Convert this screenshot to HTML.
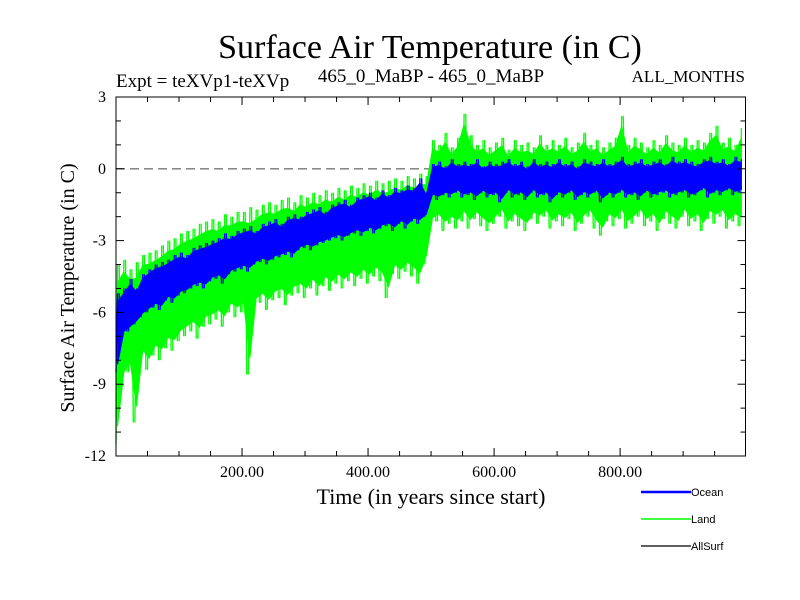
<!DOCTYPE html>
<html><head><meta charset="utf-8"><style>
body{margin:0;background:#fff}
svg{display:block}
text{font-family:"Liberation Serif",serif;fill:#000}
</style></head><body>
<svg id="c" width="800" height="600">
<text x="430" y="58" font-size="34" text-anchor="middle">Surface Air Temperature (in C)</text>
<text x="116" y="87" font-size="19">Expt = teXVp1-teXVp</text>
<text x="431" y="82" font-size="19" text-anchor="middle">465_0_MaBP - 465_0_MaBP</text>
<text x="745" y="82" font-size="17" text-anchor="end">ALL_MONTHS</text>
<text transform="translate(74,288) rotate(-90)" font-size="20" text-anchor="middle">Surface Air Temperature (in C)</text>
<text x="431" y="504" font-size="22" text-anchor="middle">Time (in years since start)</text>
<g id="plot"></g>
<g id="axes"></g>
<g id="legend"></g>
</svg>
<script>
const yTicks=[3,0,-3,-6,-9,-12];
const xTickLabels=[200,400,600,800];
const years5=[];for(let i=0;i<200;i++)years5.push(i*5);
const ocean=[-8.5,-5.2,-7.0,-5.0,-6.8,-4.6,-6.5,-5.0,-6.2,-4.4,
-6.0,-4.2,-5.8,-4.0,-5.9,-3.9,-5.5,-3.8,-5.6,-3.6,
-5.3,-3.5,-5.2,-3.6,-5.0,-3.3,-4.9,-3.2,-5.0,-3.1,
-4.7,-3.0,-4.6,-2.9,-4.8,-2.7,-4.4,-2.8,-4.3,-2.6,
-4.2,-2.5,-4.3,-2.4,-4.0,-2.6,-3.9,-2.3,-4.0,-2.2,
-3.8,-2.1,-3.7,-2.3,-3.6,-2.0,-3.7,-1.9,-3.4,-2.0,
-3.3,-1.8,-3.4,-1.7,-3.2,-1.6,-3.1,-1.8,-3.0,-1.5,
-2.9,-1.4,-3.0,-1.3,-2.8,-1.5,-2.7,-1.2,-2.8,-1.1,
-2.6,-1.0,-2.7,-1.2,-2.5,-0.9,-2.4,-1.1,-2.6,-0.8,
-2.3,-0.9,-2.5,-0.7,-2.2,-0.8,-2.3,-0.4,-2.0,-1.0,
-1.2,0.2,-1.3,0.3,-1.1,0.1,-1.2,0.4,-1.0,0.2,
-1.2,0.3,-1.1,0.2,-1.3,0.4,-1.0,0.1,-1.2,0.3,
-1.1,0.2,-1.4,0.3,-1.0,0.4,-1.2,0.2,-1.1,0.3,
-1.3,0.1,-1.0,0.4,-1.2,0.2,-1.1,0.3,-1.4,0.2,
-1.1,0.4,-1.2,0.2,-1.0,0.3,-1.3,0.1,-1.1,0.4,
-1.2,0.3,-1.0,0.2,-1.4,0.4,-1.1,0.2,-1.2,0.3,
-1.0,0.5,-1.2,0.2,-1.1,0.3,-1.3,0.4,-1.0,0.2,
-1.2,0.3,-1.1,0.4,-1.0,0.2,-1.2,0.5,-1.1,0.3,
-1.0,0.4,-1.2,0.3,-1.1,0.2,-0.9,0.4,-1.2,0.5,
-1.0,0.3,-1.1,0.4,-0.9,0.2,-1.1,0.5,-1.0,0.4];
const land=[-11.5,-4.0,-9.0,-3.8,-8.5,-4.2,-10.6,-3.9,-8.0,-3.6,
-8.4,-3.5,-7.8,-3.4,-8.0,-3.2,-7.5,-3.0,-7.6,-2.9,
-7.2,-2.7,-7.0,-2.6,-6.8,-2.5,-7.1,-2.3,-6.6,-2.2,
-6.5,-2.1,-6.3,-2.2,-6.6,-1.9,-6.0,-2.0,-6.2,-1.8,
-6.0,-1.8,-8.6,-1.6,-5.8,-1.7,-5.6,-1.5,-5.9,-1.4,
-5.5,-1.5,-5.4,-1.3,-5.7,-1.2,-5.3,-1.4,-5.2,-1.1,
-5.4,-1.2,-5.0,-1.0,-5.3,-1.1,-4.9,-0.9,-5.1,-1.0,
-4.8,-0.8,-5.0,-0.9,-4.7,-0.7,-4.9,-0.8,-4.6,-0.6,
-4.8,-0.7,-4.5,-0.5,-4.7,-0.6,-5.4,-0.5,-4.4,-0.4,
-4.6,-0.5,-4.3,-0.3,-4.5,-0.4,-4.8,-0.2,-4.0,-0.3,
-2.4,1.2,-2.2,1.0,-2.6,1.5,-2.3,0.9,-2.5,1.3,
-2.2,2.3,-2.5,1.4,-2.1,1.0,-2.4,1.2,-2.6,0.9,
-2.3,1.1,-2.0,1.3,-2.5,0.8,-2.2,1.2,-2.4,1.0,
-2.6,1.1,-2.1,0.9,-2.3,1.4,-2.0,1.0,-2.5,1.2,
-2.2,1.0,-2.4,1.3,-2.1,0.9,-2.6,1.1,-2.3,1.5,
-2.0,1.0,-2.5,1.2,-2.8,0.9,-2.2,1.1,-2.4,1.3,
-2.1,2.2,-2.5,1.0,-2.3,1.3,-2.0,1.1,-2.4,0.9,
-2.2,1.2,-2.6,1.0,-2.1,1.4,-2.3,1.1,-2.5,1.0,
-2.0,1.3,-2.4,1.0,-2.2,1.2,-2.6,1.1,-2.1,1.5,
-2.3,1.8,-2.0,1.1,-2.5,1.3,-2.2,1.0,-2.4,1.7];

const L=116,R=745.5,T=97,B=456;
const X0=0,X1=999,Y0=-12,Y1=3;
const sx=v=>L+(v-X0)/(X1-X0)*(R-L);
const sy=v=>B-(v-Y0)/(Y1-Y0)*(B-T);
const NS="http://www.w3.org/2000/svg";
function mk(tag,parent,attrs){const e=document.createElementNS(NS,tag);for(const k in attrs)e.setAttribute(k,attrs[k]);parent.appendChild(e);return e;}
const plot=document.getElementById('plot'),axes=document.getElementById('axes'),legend=document.getElementById('legend');

const zl=mk('line',plot,{x1:L,x2:R,y1:sy(0),y2:sy(0),stroke:'#777','stroke-width':1.3,'stroke-dasharray':'9,5'});



function series(vals,color,name){
  // filled core band from each low/high pair (shrunk slightly toward the pair mid)
  const up=[],lo=[];
  for(let i=0;i+1<vals.length;i+=2){
    const a=vals[i],b=vals[i+1],m=(a+b)/2;
    const x=sx((years5[i]+years5[i+1])/2);
    up.push(x.toFixed(1)+','+sy(m+(Math.max(a,b)-m)*0.8).toFixed(1));
    lo.push(x.toFixed(1)+','+sy(m+(Math.min(a,b)-m)*0.8).toFixed(1));
  }
  const poly=mk('polygon',plot,{points:up.concat(lo.reverse()).join(' '),fill:color,stroke:color,'stroke-width':1});
  
  
  // spikes: vertical segments for each value
  let d='';
  for(let i=0;i+1<vals.length;i++){
    d+='M'+sx(years5[i]).toFixed(1)+','+sy(vals[i]).toFixed(1)+'L'+sx(years5[i]+2.5).toFixed(1)+','+sy(vals[i+1]).toFixed(1);
  }
  const p=mk('path',plot,{d:d,fill:'none',stroke:color,'stroke-width':1.3});
  
  
}
series(land,'#00ff00','land-series');
series(ocean,'#0000ff','ocean-series');

const frame=mk('rect',axes,{x:L,y:T,width:R-L,height:B-T,fill:'none',stroke:'#000','stroke-width':1});


for(let v=Y0;v<=Y1;v+=1){
  const major=yTicks.includes(v);const len=major?8:5;
  mk('line',axes,{x1:L,x2:L+len,y1:sy(v),y2:sy(v),stroke:'#000'});
  mk('line',axes,{x1:R,x2:R-len,y1:sy(v),y2:sy(v),stroke:'#000'});
}
yTicks.forEach(v=>{
  const t=mk('text',axes,{x:L-10,y:sy(v)+5,'font-size':16,'text-anchor':'end'});
  t.textContent=v;
  
  
});
for(let v=50;v<1000;v+=50){
  const major=xTickLabels.includes(v);const len=major?8:5;
  mk('line',axes,{x1:sx(v),x2:sx(v),y1:B,y2:B-len,stroke:'#000'});
  mk('line',axes,{x1:sx(v),x2:sx(v),y1:T,y2:T+len,stroke:'#000'});
}
xTickLabels.forEach(v=>{
  const t=mk('text',axes,{x:sx(v),y:B+21,'font-size':16,'text-anchor':'middle'});
  t.textContent=v.toFixed(2);
  
  
});

const legendNames=['Ocean','Land','AllSurf'];
const legendColors=['#0000ff','#00ff00','#000000'];
const legendWidths=[2.5,1.5,1.2];
legendNames.forEach((n,i)=>{
  const y=492+i*27;
  const ln=mk('line',legend,{x1:641,x2:691,y1:y,y2:y,stroke:legendColors[i],'stroke-width':legendWidths[i]});
  
  
  const t=mk('text',legend,{x:691,y:y+4,'font-size':11});
  t.style.fontFamily='"Liberation Sans",sans-serif';
  t.textContent=n;
  
  
});
</script>
</body></html>
